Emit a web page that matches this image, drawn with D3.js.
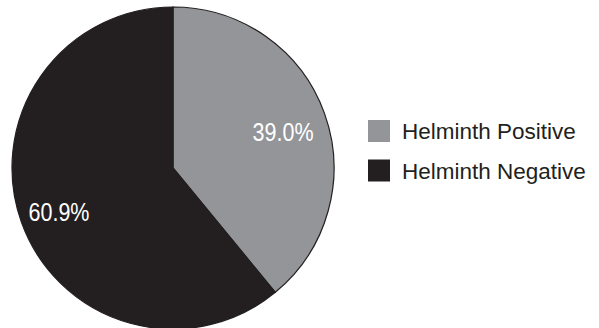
<!DOCTYPE html>
<html>
<head>
<meta charset="utf-8">
<script src="https://cdn.jsdelivr.net/npm/d3@7"></script>
<style>
  html, body { margin: 0; padding: 0; background: #fff; }
  svg { display: block; }
</style>
</head>
<body>
<svg id="chart" width="599" height="328"></svg>
<script>
const categories = ["Helminth Positive", "Helminth Negative"];
const values = [39.0, 60.9];
const valueLabels = ["39.0%", "60.9%"];
const colors = ["#939598", "#231f20"];

const svg = d3.select("#chart");
const cx = 173, cy = 168, radius = 161;

const pie = d3.pie().sort(null).value(d => d.value);
const data = categories.map((c, i) => ({ cat: c, value: values[i], label: valueLabels[i], color: colors[i] }));
const arcs = pie(data);

const arc = d3.arc().innerRadius(0).outerRadius(radius);
const labelArc = d3.arc().innerRadius(119).outerRadius(119);

const g = svg.append("g").attr("transform", `translate(${cx},${cy})`);

g.selectAll("path.slice")
  .data(arcs)
  .enter().append("path")
  .attr("class", "slice")
  .attr("d", arc)
  .attr("fill", d => d.data.color)
  .attr("stroke", "#231f20")
  .attr("stroke-width", 1.2);

const lg = svg.append("g").attr("transform", `translate(${cx - 2},${cy + 3.5})`);
lg.selectAll("text.lbl")
  .data(arcs)
  .enter().append("text")
  .attr("class", "lbl")
  .attr("transform", d => { const [x, y] = labelArc.centroid(d); return `translate(${x},${y})`; })
  .attr("text-anchor", "middle")
  .attr("dy", "0.36em")
  .attr("font-family", "Liberation Sans, Arial, sans-serif")
  .attr("font-size", 26.5)
  .attr("textLength", 61)
  .attr("lengthAdjust", "spacingAndGlyphs")
  .attr("fill", "#ffffff")
  .text(d => d.data.label);

const legend = svg.append("g").attr("transform", "translate(368,120)");
const items = legend.selectAll("g.item")
  .data(data)
  .enter().append("g")
  .attr("class", "item")
  .attr("transform", (d, i) => `translate(0,${i * 39.5})`);

items.append("rect")
  .attr("width", 22)
  .attr("height", 22)
  .attr("fill", d => d.color);

items.append("text")
  .attr("x", 34)
  .attr("y", 19)
  .attr("font-family", "Liberation Sans, Arial, sans-serif")
  .attr("font-size", 22.5)
  .attr("fill", "#231f20")
  .text(d => d.cat);
</script>
</body>
</html>
